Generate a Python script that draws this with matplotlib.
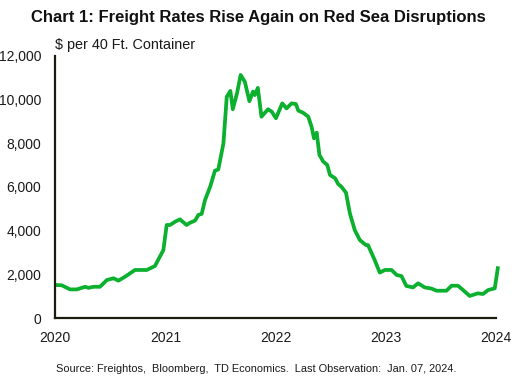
import matplotlib
matplotlib.use("Agg")
import matplotlib.pyplot as plt
import pandas as pd

plt.rcParams['font.family'] = ['Liberation Sans', 'DejaVu Sans']

dates = ["2020-01-04", "2020-01-23", "2020-02-20", "2020-03-13", "2020-04-10", "2020-04-21",
         "2020-05-07", "2020-05-29", "2020-06-21", "2020-07-13", "2020-07-29", "2020-08-20",
         "2020-09-22", "2020-10-31", "2020-11-27", "2020-12-25", "2021-01-05", "2021-01-16",
         "2021-02-02", "2021-02-18", "2021-02-27", "2021-03-12", "2021-03-23", "2021-04-09",
         "2021-04-20", "2021-05-01", "2021-05-12", "2021-05-29", "2021-06-14", "2021-06-25",
         "2021-07-12", "2021-07-23", "2021-08-04", "2021-08-12", "2021-08-26", "2021-09-07",
         "2021-09-21", "2021-10-06", "2021-10-18", "2021-10-24", "2021-11-03", "2021-11-15",
         "2021-12-07", "2021-12-19", "2022-01-02", "2022-01-23", "2022-02-06", "2022-02-23",
         "2022-03-09", "2022-03-17", "2022-04-02", "2022-04-19", "2022-04-30", "2022-05-08",
         "2022-05-17", "2022-05-26", "2022-06-08", "2022-06-21", "2022-06-30", "2022-07-17",
         "2022-07-27", "2022-08-07", "2022-08-22", "2022-09-04", "2022-09-20", "2022-10-07",
         "2022-10-27", "2022-11-03", "2022-11-25", "2022-12-12", "2022-12-29", "2023-01-20",
         "2023-02-06", "2023-02-22", "2023-03-10", "2023-04-01", "2023-04-18", "2023-05-10",
         "2023-06-01", "2023-06-18", "2023-07-21", "2023-08-07", "2023-08-28", "2023-09-14",
         "2023-10-06", "2023-11-02", "2023-11-19", "2023-12-06", "2023-12-28", "2024-01-07"]
rates = [1510, 1500, 1310, 1310, 1430, 1380,
         1430, 1430, 1740, 1820, 1710, 1890,
         2200, 2200, 2380, 3110, 4260, 4260,
         4410, 4520, 4410, 4260, 4360, 4460,
         4720, 4770, 5400, 6010, 6750, 6800,
         8000, 10130, 10400, 9560, 10290, 11130,
         10820, 9930, 10370, 10210, 10540, 9220,
         9560, 9450, 9150, 9830, 9600, 9830,
         9800, 9500, 9400, 9220, 8760, 8230,
         8490, 7470, 7160, 7010, 6550, 6400,
         6140, 6010, 5740, 4790, 4030, 3570,
         3340, 3340, 2660, 2080, 2200, 2200,
         1970, 1920, 1470, 1400, 1590, 1400,
         1350, 1250, 1250, 1480, 1480, 1280,
         1010, 1130, 1100, 1280, 1360, 2280]

years = ["2020", "2021", "2022", "2023", "2024"]
y_ticks = [0, 2000, 4000, 6000, 8000, 10000, 12000]

x = pd.to_datetime(dates)

fig = plt.figure(figsize=(5.16, 3.85), dpi=100)
ax = fig.add_axes([0.1066, 0.174, 0.8546, 0.6806])
ax.plot(x, rates, color='#0BB02F', lw=2.7, solid_joinstyle='round', clip_on=False)

ax.set_xlim(pd.Timestamp(years[0] + "-01-01"), pd.Timestamp(years[-1] + "-01-01"))
ax.set_ylim(0, 12000)
ax.set_xticks([pd.Timestamp(y + "-01-01") for y in years])
ax.set_xticklabels(years)
ax.set_yticks(y_ticks)
ax.set_yticklabels([f"{v:,}" for v in y_ticks])
ax.tick_params(axis='both', length=0, labelsize=10, colors='#1a1a1a')
ax.tick_params(axis='x', pad=9)
ax.tick_params(axis='y', pad=10)
for s in ['top', 'right']:
    ax.spines[s].set_visible(False)
for s in ['left', 'bottom']:
    ax.spines[s].set_color('#1c1c0c')
    ax.spines[s].set_linewidth(1.6)

fig.text(0.5, 0.955, "Chart 1: Freight Rates Rise Again on Red Sea Disruptions",
         ha='center', va='center', fontsize=12, fontweight='bold', color='#111111')
fig.text(0.107, 0.883, "$ per 40 Ft. Container", ha='left', va='center', fontsize=10.4, color='#1a1a1a')
fig.text(0.497, 0.042, "Source: Freightos,  Bloomberg,  TD Economics.  Last Observation:  Jan. 07, 2024.",
         ha='center', va='center', fontsize=7.9, color='#1a1a1a')

fig.savefig("out.png", dpi=100)
